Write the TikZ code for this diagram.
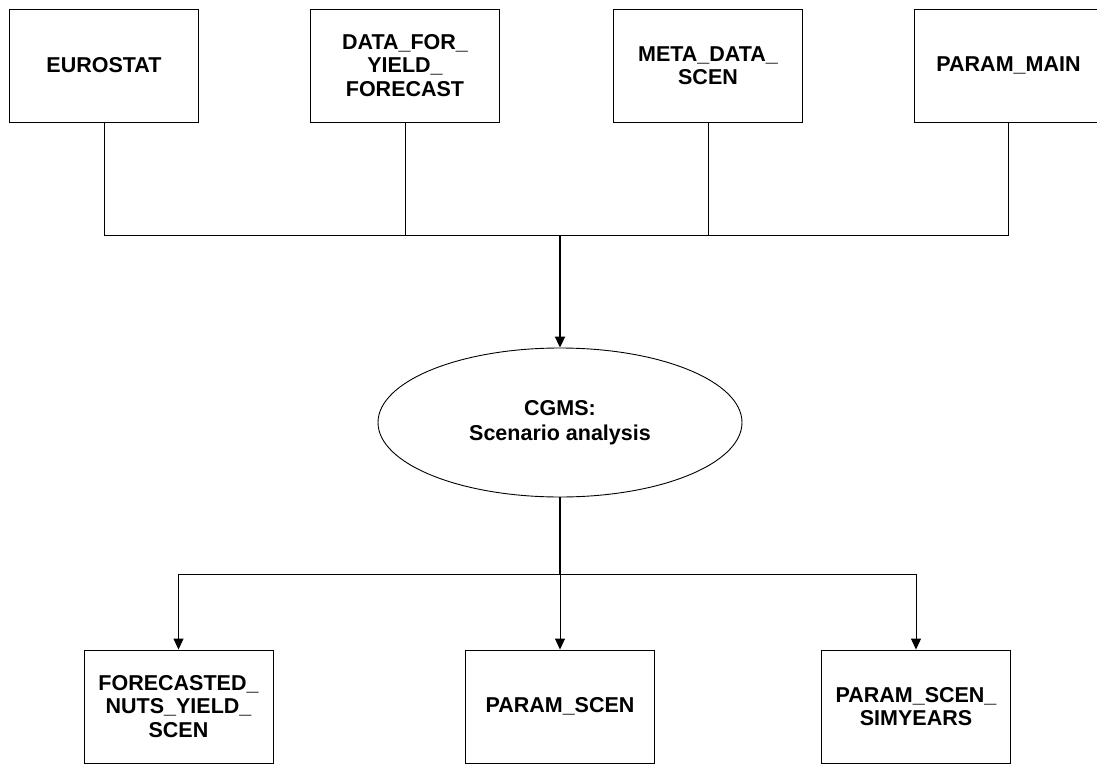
\documentclass[tikz,border=0pt]{standalone}
\usepackage{fontspec}
\setmainfont{Liberation Sans}
\usepackage{tikz}
\usetikzlibrary{arrows.meta,shapes.geometric}

\begin{document}
\begin{tikzpicture}[x=1pt,y=-1pt,
        table/.style={draw,line width=0.9pt,minimum width=189pt,minimum height=113pt,
            inner sep=0pt,align=center,font=\bfseries\fontsize{21.5}{23.5}\selectfont},
        process/.style={ellipse,draw,line width=0.9pt,minimum width=364pt,minimum height=149pt,
            inner sep=0pt,align=center,font=\bfseries\fontsize{21.5}{25}\selectfont},
        link/.style={line width=1pt},
        flow/.style={line width=1pt,-{Triangle[length=11pt,width=10pt]}}]
        \clip (0,0) rectangle (1097,765);
        %\draw[help lines] (0,0) grid (1097,765);
        \node[table] (eurostat) at (104,65.5) {EUROSTAT};
        \node[table] (yieldfc) at (405,65.5) {DATA\_FOR\_\\YIELD\_\\FORECAST};
        \node[table] (metascen) at (708,65.5) {META\_DATA\_\\SCEN};
        \node[table] (parammain) at (1008.5,65.5) {PARAM\_MAIN};
        \node[process] (cgms) at (560,422.5) {CGMS:\\Scenario analysis};
        \node[table] (forecasted) at (178.5,706.5) {FORECASTED\_\\NUTS\_YIELD\_\\SCEN};
        \node[table] (paramscen) at (560,706.5) {PARAM\_SCEN};
        \node[table] (simyears) at (916,706.5) {PARAM\_SCEN\_\\SIMYEARS};
        \coordinate (busin) at (560,235);
        \coordinate (busout) at (560,574);
        \foreach \t in {eurostat,yieldfc,metascen,parammain}
            \draw[link] (\t.south) |- (busin);
        \draw[flow,line width=2pt] (busin) -- (cgms);
        \draw[link,line width=2pt] (cgms) -- (busout);
        \foreach \t in {forecasted,paramscen,simyears}
            \draw[flow] (busout) -| (\t.north);
    \end{tikzpicture}
\end{document}
